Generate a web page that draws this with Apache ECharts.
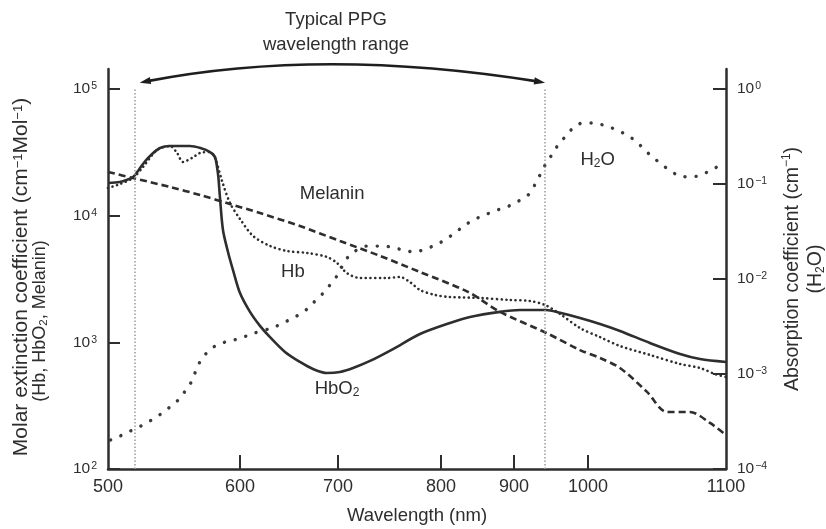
<!DOCTYPE html>
<html><head><meta charset="utf-8">
<script src="https://cdn.jsdelivr.net/npm/echarts@6/dist/echarts.min.js"></script>
<style>html,body{margin:0;padding:0;background:#fff}#c{width:826px;height:529px}</style>
</head><body><div id="c"></div>
<script>
// ---- axis definitions ----
const xTickNm = [500, 600, 700, 800, 900, 1000, 1100];
// relative drawn width of each 100-nm segment (the source figure's x axis is not uniform)
const xTickSpan = [1.32, 0.98, 1.03, 0.73, 0.74, 1.38];
const leftTicks = [1e2, 1e3, 1e4, 1e5];
const rightTicks = [1e-4, 1e-3, 1e-2, 1e-1, 1];
const ppgRangeNm = [520, 942];

// ---- series data (wavelength nm, value) ----
const hbo2Nm = [500, 509, 514, 519, 522.7, 526.5, 531.8, 539.4, 547, 562, 570, 577.3, 581.1, 582.6, 583.6, 584.8, 587.1, 590.9, 594.7, 600, 610.2, 620.4, 630.6, 645.9, 661.2, 674.5, 688.8, 701.9, 714.6, 731.1, 753.4, 779.6, 812.3, 839.7, 880.8, 908.1, 943.2, 962.2, 989.2, 1008.7, 1023.2, 1044.9, 1066.7, 1081.2, 1100];
const hbo2Val = [18100, 18450, 19100, 20200, 22500, 25600, 29600, 34200, 35500, 35500, 34200, 31800, 29000, 24200, 20200, 14000, 7700, 5170, 3720, 2450, 1740, 1350, 1100, 840, 700, 616, 572, 583, 627, 713, 885, 1164, 1422, 1585, 1740, 1800, 1800, 1710, 1556, 1396, 1230, 988, 809, 738, 700];

const hbNm = [500, 509.1, 518.9, 526.5, 537.1, 547, 552.3, 556.8, 563.6, 569.7, 577.3, 581.1, 586.4, 592.4, 600, 613.3, 630.6, 648, 668.4, 688.8, 699, 708.7, 721.4, 747.6, 760.2, 769.9, 779.6, 794.2, 812.3, 853.4, 894.5, 921.6, 941.9, 962.2, 989.2, 1008.7, 1023.2, 1044.9, 1066.7, 1081.2, 1092, 1100];
const hbVal = [16530, 17780, 19830, 24210, 32960, 35480, 31260, 26540, 28510, 31260, 31820, 28510, 18790, 12590, 9420, 6920, 5770, 5260, 5080, 4720, 4230, 3520, 3220, 3220, 3280, 2990, 2590, 2366, 2280, 2240, 2160, 2120, 1970, 1675, 1297, 1100, 935, 795, 675, 627, 562, 532];

const melaninNm = [500, 518.9, 547, 569.7, 592.4, 620.4, 661.2, 701.9, 740.8, 779.6, 837, 880.8, 943.2, 989.2, 1008.7, 1023.2, 1042.8, 1057.2, 1073.9, 1088.4, 1100];
const melaninVal = [22130, 19830, 16840, 14560, 12360, 10490, 8280, 6310, 4810, 3590, 2500, 1740, 1190, 869, 752, 627, 406, 282, 282, 231, 185];

const h2oNm = [502, 509, 517, 525, 533, 540, 547, 554, 559, 564, 567, 571, 577, 584, 592, 601, 612, 635, 646, 656, 666, 674.5, 684, 691, 699, 710, 728, 741, 752, 763, 775, 784.5, 795, 807, 819, 833, 847, 860, 877, 890, 904, 919, 928, 935, 942, 951, 959.5, 969, 980, 993, 1004, 1013, 1021, 1028, 1035.5, 1041, 1047, 1054, 1061, 1068, 1076, 1083, 1092, 1099];
const h2oVal = [0.000202, 0.000222, 0.000251, 0.000284, 0.000328, 0.000379, 0.00045, 0.000546, 0.000679, 0.000865, 0.00113, 0.00144, 0.00179, 0.00207, 0.00222, 0.00239, 0.00264, 0.00312, 0.00353, 0.00398, 0.0046, 0.00559, 0.00695, 0.00844, 0.0108, 0.0171, 0.0222, 0.0222, 0.0217, 0.0202, 0.0192, 0.0207, 0.0228, 0.0264, 0.0305, 0.037, 0.0428, 0.0472, 0.0532, 0.0573, 0.0647, 0.0766, 0.0976, 0.124, 0.158, 0.202, 0.257, 0.313, 0.389, 0.439, 0.439, 0.408, 0.37, 0.328, 0.277, 0.228, 0.192, 0.158, 0.134, 0.119, 0.119, 0.127, 0.147, 0.17];

// ---- annotation anchors (data space) ----
const labelMelanin = [694, 14800];
const labelHb = [654, 3590];
const labelHbO2 = [699, 430];
const labelH2O = [1007, 0.179];
const arrowNm = [524, 942];
const arrowCtrlNm = 685;
const arrowLevels = [Math.pow(10, 5.05), Math.pow(10, 5.33)];

// ---- helpers ----
const FONT = '"Liberation Sans", Arial, Helvetica, sans-serif';
const INK = '#2e2e2e';
const warpPos = [0];
xTickSpan.forEach((s, i) => warpPos.push(+(warpPos[i] + s).toFixed(4)));
function warp(nm) {
  let i = 0;
  while (i < xTickSpan.length - 1 && nm > xTickNm[i + 1]) i++;
  return warpPos[i] + (nm - xTickNm[i]) / (xTickNm[i + 1] - xTickNm[i]) * xTickSpan[i];
}
const pairs = (nm, val) => nm.map((x, i) => [warp(x), val[i]]);
const powLabel = v => {
  const e = Math.round(Math.log10(v));
  return '{b|10}{s|' + (e < 0 ? '\u2212' + (-e) : e) + '}';
};
const tickRich = {
  b: { fontSize: 15.5, fontFamily: FONT, color: INK, lineHeight: 16 },
  s: { fontSize: 10.5, fontFamily: FONT, color: INK, lineHeight: 10, verticalAlign: 'top', padding: [0, 0, 0, 1] }
};
const annRich = {
  a: { fontSize: 18.5, fontFamily: FONT, fill: INK, lineHeight: 20 },
  b: { fontSize: 12, fontFamily: FONT, fill: INK, lineHeight: 10, verticalAlign: 'bottom' }
};

const chart = echarts.init(document.getElementById('c'), null, { renderer: 'canvas' });
const lineBase = { type: 'line', showSymbol: false, smooth: 0.3, silent: true };
const option = {
  animation: false,
  backgroundColor: '#fff',
  title: {
    text: 'Typical PPG\nwavelength range', left: 336, top: 7, textAlign: 'center', padding: 0,
    textStyle: { fontSize: 18.5, lineHeight: 25, fontWeight: 'normal', color: INK, fontFamily: FONT }
  },
  grid: { left: 108, right: 100, top: 69, bottom: 60, outerBoundsMode: 'none' },
  xAxis: {
    type: 'value', min: 0, max: warpPos[warpPos.length - 1],
    axisLine: { show: true, onZero: false, lineStyle: { color: INK, width: 2.5 } },
    axisTick: { show: true, inside: true, length: 14, lineStyle: { color: INK, width: 2 }, customValues: warpPos.slice(1, -1) },
    axisLabel: {
      customValues: warpPos, margin: 9, fontSize: 18, color: INK, fontFamily: FONT,
      formatter: v => { const i = warpPos.findIndex(p => Math.abs(p - v) < 1e-6); return i >= 0 ? String(xTickNm[i]) : ''; }
    },
    splitLine: { show: false },
    name: 'Wavelength (nm)', nameLocation: 'middle', nameGap: 37, nameMoveOverlap: false,
    nameTextStyle: { fontSize: 18.5, color: INK, fontFamily: FONT }
  },
  yAxis: [{
    type: 'log', logBase: 10, min: leftTicks[0], max: Math.pow(10, 5 + 20 / 126.67), position: 'left',
    axisLine: { show: true, lineStyle: { color: INK, width: 2.5 } },
    axisTick: { show: true, inside: true, length: 12, lineStyle: { color: INK, width: 2 }, customValues: leftTicks },
    axisLabel: { customValues: leftTicks, margin: 11, formatter: powLabel, rich: tickRich },
    splitLine: { show: false }, minorTick: { show: false },
    name: '{a|Molar extinction coefficient (cm}{s|\u22121}{a|Mol}{s|\u22121}{ap|)}\n{b|(Hb, HbO}{bs|2}{bp|, Melanin)}',
    nameLocation: 'middle', nameRotate: 90, nameGap: 58, nameMoveOverlap: false,
    nameTextStyle: {
      rich: {
        a: { fontSize: 21, fontFamily: FONT, color: INK, lineHeight: 19 },
        ap: { fontSize: 21, fontFamily: FONT, color: INK, lineHeight: 19, padding: [0, 16, 0, 0] },
        s: { fontSize: 13, fontFamily: FONT, color: INK, lineHeight: 8, verticalAlign: 'top' },
        b: { fontSize: 18, fontFamily: FONT, color: INK, lineHeight: 19 },
        bp: { fontSize: 18, fontFamily: FONT, color: INK, lineHeight: 19, padding: [0, 104, 0, 0] },
        bs: { fontSize: 11.5, fontFamily: FONT, color: INK, lineHeight: 8, verticalAlign: 'bottom' }
      }
    }
  }, {
    type: 'log', logBase: 10, min: rightTicks[0], max: Math.pow(10, 20 / 95), position: 'right',
    axisLine: { show: true, lineStyle: { color: INK, width: 2.5 } },
    axisTick: { show: true, inside: true, length: 13, lineStyle: { color: INK, width: 2 }, customValues: rightTicks },
    axisLabel: { customValues: rightTicks, margin: 11, formatter: powLabel, rich: tickRich },
    splitLine: { show: false }, minorTick: { show: false },
    name: '{a|Absorption coefficient (cm}{s|\u22121}{a|)}\n{a|(H}{b|2}{a|O)}',
    nameLocation: 'middle', nameRotate: 90, nameGap: 55, nameMoveOverlap: false,
    nameTextStyle: {
      rich: {
        a: { fontSize: 19.5, fontFamily: FONT, color: INK, lineHeight: 23 },
        s: { fontSize: 12, fontFamily: FONT, color: INK, lineHeight: 10, verticalAlign: 'top' },
        b: { fontSize: 12, fontFamily: FONT, color: INK, lineHeight: 10, verticalAlign: 'bottom' }
      }
    }
  }],
  series: [Object.assign({}, lineBase, {
    name: 'HbO2', yAxisIndex: 0, data: pairs(hbo2Nm, hbo2Val),
    lineStyle: { color: INK, width: 2.6 }
  }), Object.assign({}, lineBase, {
    name: 'Hb', yAxisIndex: 0, data: pairs(hbNm, hbVal),
    lineStyle: { color: INK, width: 2.6, type: [0.1, 4.6], cap: 'round' }
  }), Object.assign({}, lineBase, {
    name: 'Melanin', yAxisIndex: 0, data: pairs(melaninNm, melaninVal),
    lineStyle: { color: INK, width: 2.6, type: [7, 4] },
    markLine: {
      silent: true, symbol: ['none', 'none'], label: { show: false },
      lineStyle: { color: '#9a9a9a', width: 1.5, type: [1.5, 2] },
      data: ppgRangeNm.map(nm => [{ coord: [warp(nm), leftTicks[0]] }, { coord: [warp(nm), leftTicks[leftTicks.length - 1]] }])
    }
  }), Object.assign({}, lineBase, {
    name: 'H2O', yAxisIndex: 1, data: pairs(h2oNm, h2oVal),
    lineStyle: { color: '#3a3a3a', width: 3.4, type: [0.1, 11], cap: 'round' }
  })]
};
chart.setOption(option);

// annotations positioned through the axes
const P = (v, yi) => chart.convertToPixel({ xAxisIndex: 0, yAxisIndex: yi || 0 }, v);
const pA = P([warp(arrowNm[0]), arrowLevels[0]]);
const pB = P([warp(arrowNm[1]), arrowLevels[0]]);
const pC = P([warp(arrowCtrlNm), arrowLevels[1]]);
function head(tip, from) {
  const dx = tip[0] - from[0], dy = tip[1] - from[1], L = Math.hypot(dx, dy);
  const ux = dx / L, uy = dy / L, bx = tip[0] - 11 * ux, by = tip[1] - 11 * uy;
  return { type: 'polygon', silent: true, shape: { points: [tip, [bx - 3.6 * uy, by + 3.6 * ux], [bx + 3.6 * uy, by - 3.6 * ux]] }, style: { fill: '#1e1e1e' } };
}
const inset = (tip, from, d) => { const dx = from[0] - tip[0], dy = from[1] - tip[1], L = Math.hypot(dx, dy); return [tip[0] + dx / L * d, tip[1] + dy / L * d]; };
const sA = inset(pA, pC, 8), sB = inset(pB, pC, 8);
function textAt(coord, yi, text) {
  const p = P([warp(coord[0]), coord[1]], yi);
  return { type: 'text', silent: true, x: p[0], y: p[1], style: { text: text, rich: annRich, align: 'center', verticalAlign: 'middle', font: '18.5px ' + FONT, fill: INK } };
}
chart.setOption({
  graphic: [
    { type: 'bezierCurve', silent: true, shape: { x1: sA[0], y1: sA[1], x2: sB[0], y2: sB[1], cpx1: pC[0], cpy1: pC[1] }, style: { stroke: '#1e1e1e', lineWidth: 2.6, fill: null } },
    head(pA, pC), head(pB, pC),
    textAt(labelMelanin, 0, '{a|Melanin}'),
    textAt(labelHb, 0, '{a|Hb}'),
    textAt(labelHbO2, 0, '{a|HbO}{b|2}'),
    textAt(labelH2O, 1, '{a|H}{b|2}{a|O}')
  ]
});
</script></body></html>
